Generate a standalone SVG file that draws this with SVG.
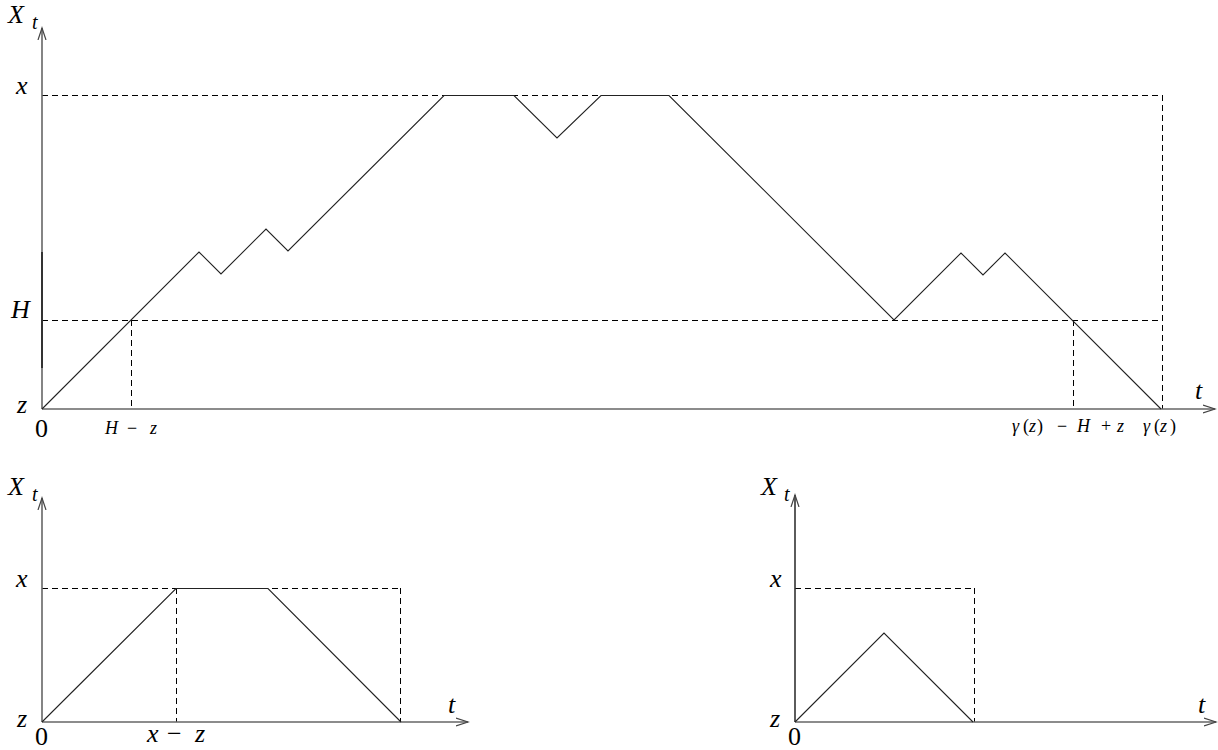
<svg xmlns="http://www.w3.org/2000/svg" width="1218" height="750" viewBox="0 0 1218 750">
<defs>
<marker id="arr" markerWidth="14" markerHeight="10" refX="12" refY="5" orient="auto" markerUnits="userSpaceOnUse">
<path d="M0,1 L12,5 L0,9" fill="none" stroke="#444" stroke-width="1.2"/>
</marker>
</defs>
<style>
.axis{stroke:#666;stroke-width:1.6;fill:none}
.path{stroke:#222;stroke-width:1.1;fill:none;stroke-linejoin:miter}
.dash{stroke:#000;stroke-width:1;fill:none;stroke-dasharray:6 4}
text{font-family:"Liberation Serif","Times New Roman",serif;fill:#000}
.m{font-style:italic;font-size:26px}
.n{font-size:26px}
.s{font-style:italic;font-size:18px}
.sub{font-style:italic;font-size:20px}
.up{font-style:normal}
</style>
<rect width="1218" height="750" fill="#fff"/>

<g id="plot-top">
<g id="top-guides">
<line class="dash" x1="42" y1="95.5" x2="1162" y2="95.5"/>
<line class="dash" x1="42" y1="320.5" x2="1162" y2="320.5"/>
<line class="dash" x1="131.5" y1="320" x2="131.5" y2="409"/>
<line class="dash" x1="1073.5" y1="320" x2="1073.5" y2="409"/>
<line class="dash" x1="1162.5" y1="95" x2="1162.5" y2="409"/>
</g>
<g id="top-axes">
<line class="axis" x1="42" y1="409" x2="42" y2="28" marker-end="url(#arr)"/>
<line x1="42" y1="252" x2="42" y2="368" stroke="#333" stroke-width="2"/>
<line class="axis" x1="42" y1="409" x2="1215" y2="409" marker-end="url(#arr)"/>
</g>
<polyline id="top-path" class="path" points="42,409 199,252 221,274 266,229 288,251 444,95.5 514,95.5 557,138 601,95.5 669,95.5 894,320 961,253 983,275 1005,253 1161,409"/>
<g id="top-labels">
<text class="m" x="8" y="23">X</text><text class="sub" x="32" y="29">t</text>
<text class="m" x="16" y="94">x</text>
<text class="m" x="11" y="318">H</text>
<text class="m" x="17" y="413">z</text>
<text class="n" x="35" y="437">0</text>
<text class="s" font-size="17"><tspan x="105" y="434">H</tspan><tspan class="up" x="127">−</tspan><tspan x="150">z</tspan></text>
<text class="s" font-size="17"><tspan x="1012" y="432">γ</tspan><tspan class="up" x="1023">(</tspan><tspan x="1029">z</tspan><tspan class="up" x="1037">)</tspan><tspan class="up" x="1057">−</tspan><tspan x="1077">H</tspan><tspan class="up" x="1101">+</tspan><tspan x="1117">z</tspan><tspan x="1143">γ</tspan><tspan class="up" x="1154">(</tspan><tspan x="1160">z</tspan><tspan class="up" x="1170">)</tspan></text>
<text class="m" x="1195" y="399">t</text>
</g>
</g>

<g id="plot-bottom-left">
<g id="bl-guides">
<line class="dash" x1="42" y1="588.5" x2="400" y2="588.5"/>
<line class="dash" x1="176.5" y1="588" x2="176.5" y2="722"/>
<line class="dash" x1="400.5" y1="588" x2="400.5" y2="722"/>
</g>
<g id="bl-axes">
<line class="axis" x1="42" y1="722" x2="42" y2="498" marker-end="url(#arr)"/>
<line class="axis" x1="42" y1="722" x2="468" y2="722" marker-end="url(#arr)"/>
</g>
<polyline id="bl-path" class="path" points="42,722 176,588.5 268,588.5 401,722"/>
<g id="bl-labels">
<text class="m" x="8" y="495">X</text><text class="sub" x="32" y="501">t</text>
<text class="m" x="16" y="587">x</text>
<text class="m" x="17" y="727">z</text>
<text class="n" x="35" y="745">0</text>
<text class="m"><tspan x="147" y="742">x</tspan><tspan class="up" x="167">−</tspan><tspan x="195">z</tspan></text>
<text class="m" x="448" y="713">t</text>
</g>
</g>

<g id="plot-bottom-right">
<g id="br-guides">
<line class="dash" x1="795" y1="588.5" x2="974" y2="588.5"/>
<line class="dash" x1="974.5" y1="588" x2="974.5" y2="722"/>
</g>
<g id="br-axes">
<line class="axis" x1="795" y1="722" x2="795" y2="495" marker-end="url(#arr)" style="stroke:#333"/>
<line class="axis" x1="795" y1="722" x2="1216" y2="722" marker-end="url(#arr)"/>
</g>
<polyline id="br-path" class="path" points="795,722 884,633 973,722"/>
<g id="br-labels">
<text class="m" x="761" y="495">X</text><text class="sub" x="784" y="501">t</text>
<text class="m" x="770" y="587">x</text>
<text class="m" x="770" y="727">z</text>
<text class="n" x="788" y="745">0</text>
<text class="m" x="1198" y="713">t</text>
</g>
</g>
</svg>
